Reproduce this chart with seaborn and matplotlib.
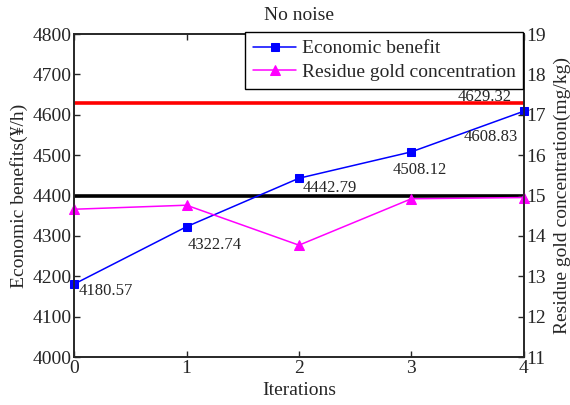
import pandas as pd
import seaborn as sns
import matplotlib.pyplot as plt

# data
iterations = [0, 1, 2, 3, 4]
benefit = [4180.57, 4322.74, 4442.79, 4508.12, 4608.83]
residue = [14.66, 14.76, 13.77, 14.92, 14.95]
red_level = 4629.32
black_level = 4400

df = pd.DataFrame({'Iterations': iterations, 'benefit': benefit, 'residue': residue})

sns.set_style('ticks')
plt.rcParams['font.family'] = ['Liberation Serif', 'DejaVu Serif']
plt.rcParams['xtick.direction'] = 'in'
plt.rcParams['ytick.direction'] = 'in'

fig = plt.figure(figsize=(5.7, 4.05), dpi=100)
ax1 = fig.add_axes([0.130, 0.1185, 0.789, 0.7975])

ax1.axhline(red_level, color='red', lw=2.6, zorder=1)
ax1.axhline(black_level, color='black', lw=2.6, zorder=1)

sns.lineplot(data=df, x='Iterations', y='benefit', ax=ax1, color='blue', marker='s',
             markersize=6, markeredgecolor='blue', lw=1.1, label='Economic benefit',
             legend=False, clip_on=False, zorder=3)
ax1.set_ylim(4000, 4800)
ax1.set_xlim(0, 4)
ax1.set_xticks(iterations)
ax1.set_yticks(range(4000, 4801, 100))
ax1.set_xlabel('Iterations', fontsize=14, labelpad=4)
ax1.set_ylabel('Economic benefits(¥/h)', fontsize=14, labelpad=3)
ax1.tick_params(labelsize=14, width=1, length=4, top=True, pad=2)
ax1.set_title('No noise', fontsize=14, pad=10)

# value labels (pixel offsets from the points)
offsets = [(5, -11, 'left'), (1.5, -22, 'left'), (4, -14, 'left'),
           (-18.5, -22.5, 'left'), (-6, -30, 'right')]
for x, y, (dx, dy, ha) in zip(iterations, benefit, offsets):
    ax1.annotate(f'{y:.2f}', (x, y), xytext=(dx, dy), textcoords='offset pixels',
                 fontsize=12, ha=ha, va='baseline')
ax1.annotate(f'{red_level:.2f}', (4, red_level), xytext=(-12, 2), textcoords='offset pixels',
             fontsize=12, ha='right', va='baseline')

ax2 = ax1.twinx()
sns.lineplot(data=df, x='Iterations', y='residue', ax=ax2, color='magenta', marker='^',
             markersize=7.5, markeredgecolor='magenta', lw=1.1, label='Residue gold concentration',
             legend=False, clip_on=False)
ax2.set_ylim(11, 19)
ax2.set_yticks(range(11, 20))
ax2.set_ylabel('Residue gold concentration(mg/kg)', fontsize=14, labelpad=5)
ax2.tick_params(labelsize=14, width=1, length=4, pad=2)
for ax in (ax1, ax2):
    for s in ax.spines.values():
        s.set_linewidth(1.2)
        s.set_visible(True)

h1, l1 = ax1.get_legend_handles_labels()
h2, l2 = ax2.get_legend_handles_labels()
leg = ax2.legend(h1 + h2, l1 + l2, loc='upper right', bbox_to_anchor=(0.999, 1.006),
                 borderaxespad=0, fontsize=14, fancybox=False, framealpha=1, edgecolor='black',
                 borderpad=0.4, handlelength=2.2, handletextpad=0.3, labelspacing=0.3)
leg.get_frame().set_linewidth(1)

fig.savefig('out.png', dpi=100)
